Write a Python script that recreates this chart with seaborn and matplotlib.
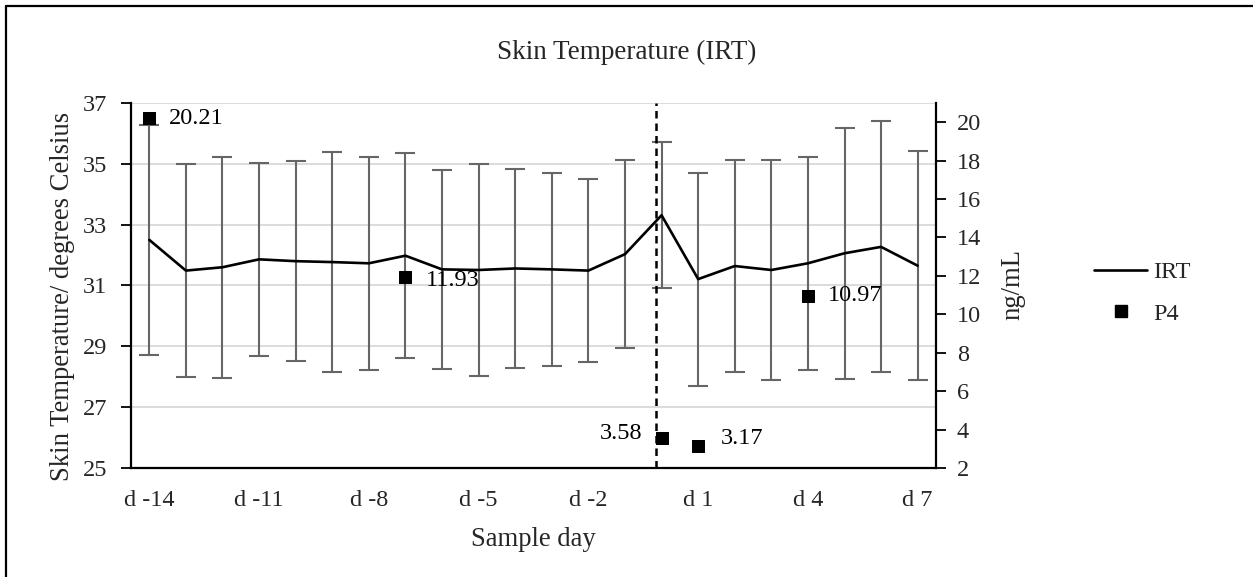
import numpy as np
import pandas as pd
import matplotlib
matplotlib.use("Agg")
import matplotlib.pyplot as plt
from matplotlib.lines import Line2D
import seaborn as sns

# ---- data ----
days = ["d -14", "d -13", "d -12", "d -11", "d -10", "d -9", "d -8", "d -7",
        "d -6", "d -5", "d -4", "d -3", "d -2", "d -1", "d 0", "d 1",
        "d 2", "d 3", "d 4", "d 5", "d 6", "d 7"]
irt_mean = [32.5, 31.49, 31.6, 31.86, 31.8, 31.77, 31.73, 31.98,
            31.53, 31.51, 31.56, 31.53, 31.49, 32.03, 33.31, 31.21,
            31.64, 31.51, 31.73, 32.06, 32.27, 31.65]
irt_sd = [3.77, 3.5, 3.63, 3.18, 3.29, 3.63, 3.5, 3.38,
          3.27, 3.5, 3.27, 3.18, 3.0, 3.08, 2.4, 3.5,
          3.5, 3.63, 3.5, 4.13, 4.13, 3.77]
p4_days = ["d -14", "d -7", "d 0", "d 1", "d 4"]
p4_values = [20.21, 11.93, 3.58, 3.17, 10.97]
tick_days = ["d -14", "d -11", "d -8", "d -5", "d -2", "d 1", "d 4", "d 7"]

sns.set_theme(style="white")
plt.rcParams["font.family"] = ["Liberation Serif", "DejaVu Serif"]

TICK_FS = 17.5
LABEL_FS = 19.2

pos = {d: i for i, d in enumerate(days)}
df = pd.DataFrame({"x": [pos[d] for d in days], "irt": irt_mean, "sd": irt_sd})
dfp = pd.DataFrame({"x": [pos[d] for d in p4_days], "p4": p4_values})

fig = plt.figure(figsize=(12.53, 5.77), dpi=100)
ax = fig.add_axes([131 / 1253, 1 - 468 / 577, (936 - 131) / 1253, (468 - 103) / 577])

# gridlines
ax.set_ylim(25, 37)
ax.set_yticks(np.arange(25, 38, 2))
ax.yaxis.grid(True, color="#d9d9d9", linewidth=1.3)
ax.set_axisbelow(True)

# error bars + line
ax.errorbar(df["x"], df["irt"], yerr=df["sd"], fmt="none", ecolor="#666666",
            elinewidth=1.5, capsize=7.5, capthick=1.5, zorder=2)
sns.lineplot(data=df, x="x", y="irt", ax=ax, color="black", linewidth=1.9,
             zorder=3, legend=False)

ax.set_xlim(-0.5, len(days) - 0.5)
ax.set_xticks([pos[d] for d in tick_days])
ax.set_xticklabels(tick_days)
ax.tick_params(axis="x", length=0, labelsize=TICK_FS, pad=15.5)
ax.tick_params(axis="y", length=7, width=1.3, direction="out", labelsize=TICK_FS,
               left=True, color="black", pad=10)

# vertical dashed line
ax.axvline(pos["d 0"] - 0.16, color="black", linestyle=(0, (3, 2)), linewidth=1.8,
           zorder=4)

for s in ["top", "right"]:
    ax.spines[s].set_visible(False)
for s in ["left", "bottom"]:
    ax.spines[s].set_color("black")
    ax.spines[s].set_linewidth(1.6)

ax.set_xlabel("Sample day", fontsize=LABEL_FS, labelpad=12)
ax.set_ylabel("Skin Temperature/ degrees Celsius", fontsize=LABEL_FS)
ax.yaxis.set_label_coords((75 - 131) / 805, (468 - 296) / 365)

# right axis
ax2 = ax.twinx()
sns.scatterplot(data=dfp, x="x", y="p4", ax=ax2, marker="s", s=80, color="black",
                edgecolor="black", zorder=5, legend=False)
ax2.set_ylim(2, 21)
ax2.set_yticks(np.arange(2, 21, 2))
ax2.tick_params(axis="y", length=7, width=1.3, direction="out", labelsize=TICK_FS,
                right=True, color="black", pad=8)
for s in ["top", "left", "bottom"]:
    ax2.spines[s].set_visible(False)
ax2.spines["right"].set_color("black")
ax2.spines["right"].set_linewidth(1.6)
ax2.set_ylabel("ng/mL", fontsize=LABEL_FS)
ax2.yaxis.set_label_coords((1000 - 131) / 805, (468 - 284) / 365)
ax2.grid(False)
ax2.set_xlim(-0.5, len(days) - 0.5)

for d, v in zip(p4_days, p4_values):
    if d == "d 0":
        off, ha = (-14, 3), "right"
    elif d == "d -7":
        off, ha = (15, -2), "left"
    elif d == "d 1":
        off, ha = (16, 5), "left"
    else:
        off, ha = (14, 0), "left"
    ax2.annotate(f"{v:.2f}", (pos[d], v), xytext=off, textcoords="offset points",
                 ha=ha, va="center", fontsize=TICK_FS, color="black", zorder=6)

# title
fig.text(0.5, 1 - 52 / 577, "Skin Temperature (IRT)", ha="center", va="center",
         fontsize=19.5)

# legend
handles = [Line2D([0], [0], color="black", linewidth=1.9),
           Line2D([0], [0], color="black", marker="s", linestyle="none",
                  markersize=8)]
fig.legend(handles, ["IRT", "P4"], loc="center left",
           bbox_to_anchor=(1094 / 1253, 1 - 293 / 577), frameon=False,
           fontsize=TICK_FS, handlelength=2.2, handletextpad=0.25, labelspacing=0.8,
           borderpad=0, borderaxespad=0)

# figure frame (top and left edges)
fig.add_artist(Line2D([6 / 1253, 6 / 1253], [0, 1 - 6 / 577], color="black",
                      linewidth=1.6, transform=fig.transFigure))
fig.add_artist(Line2D([6 / 1253, 1.0], [1 - 6 / 577, 1 - 6 / 577], color="black",
                      linewidth=1.6, transform=fig.transFigure))

fig.savefig("out.png", dpi=100)
